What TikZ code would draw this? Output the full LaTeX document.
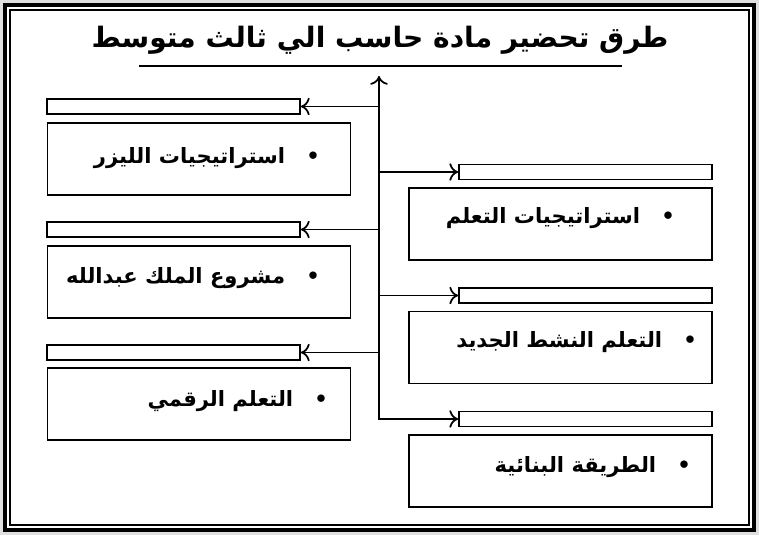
\documentclass[tikz,border=0pt]{standalone}
\usepackage{fontspec}
\newfontfamily\arabicfont[Script=Arabic]{DejaVu Sans}
\TeXXeTstate=1
\usetikzlibrary{arrows.meta}
\tikzset{
  barbox/.style={draw, line width=1pt, minimum width=5.06cm, minimum height=0.3cm, inner sep=0pt},
  itembox/.style={draw, line width=1pt, minimum width=6.06cm, minimum height=1.44cm, inner sep=0pt},
  itemtext/.style={font=\arabicfont\bfseries\fontsize{12}{14}\selectfont, anchor=east},
  branch/.style={line width=1pt, -{To[length=5pt,width=10pt]}}
}
\begin{document}
\begin{tikzpicture}[x=0.02cm, y=-0.02cm]
    \useasboundingbox (0,0) rectangle (759,535);
    % frame
    \fill[gray!25] (0,0) rectangle (759,535);
    \draw[line width=2.5pt, fill=white] (5,5) rectangle (754,530);
    \draw[line width=1pt] (10,10) rectangle (749,525);

    % title
    \node[font=\arabicfont\bfseries\fontsize{16}{18}\selectfont] (title) at (380,40) {\beginR طرق تحضير مادة حاسب الي ثالث متوسط\endR};
    \draw[line width=1.2pt] (139,66) -- (622,66);

    % trunk
    \coordinate (top) at (379,76);
    \coordinate (bot) at (379,420);
    \draw[branch] (bot) -- (top);

    % left items
    \node[barbox] (bl1) at (173.5,106.5) {};
    \node[barbox] (bl2) at (173.5,229.5) {};
    \node[barbox] (bl3) at (173.5,352.5) {};
    \node[itembox] (il1) at (199,159) {};
    \node[itembox] (il2) at (199,282) {};
    \node[itembox] (il3) at (199,404) {};
    \node[itemtext] (tl1) at (326,158) {\beginR •\quad استراتيجيات الليزر\endR};
    \node[itemtext] (tl2) at (326,278) {\beginR •\quad مشروع الملك عبدالله\endR};
    \node[itemtext] (tl3) at (334,401) {\beginR •\quad التعلم الرقمي\endR};
    \draw[branch] (379,106.5) -- (bl1.east);
    \draw[branch] (379,229.5) -- (bl2.east);
    \draw[branch] (379,352.5) -- (bl3.east);

    % right items
    \node[barbox] (br1) at (585.5,172) {};
    \node[barbox] (br2) at (585.5,295.5) {};
    \node[barbox] (br3) at (585.5,419) {};
    \node[itembox] (ir1) at (560.5,224) {};
    \node[itembox] (ir2) at (560.5,347.5) {};
    \node[itembox] (ir3) at (560.5,471) {};
    \node[itemtext] (tr1) at (681,218) {\beginR •\quad استراتيجيات التعلم\endR};
    \node[itemtext] (tr2) at (703,342) {\beginR •\quad التعلم النشط الجديد\endR};
    \node[itemtext] (tr3) at (697,467) {\beginR •\quad الطريقة البنائية\endR};
    \draw[branch] (379,172) -- (br1.west);
    \draw[branch] (379,295.5) -- (br2.west);
    \draw[branch] (379,419) -- (br3.west);
\end{tikzpicture}
\end{document}
